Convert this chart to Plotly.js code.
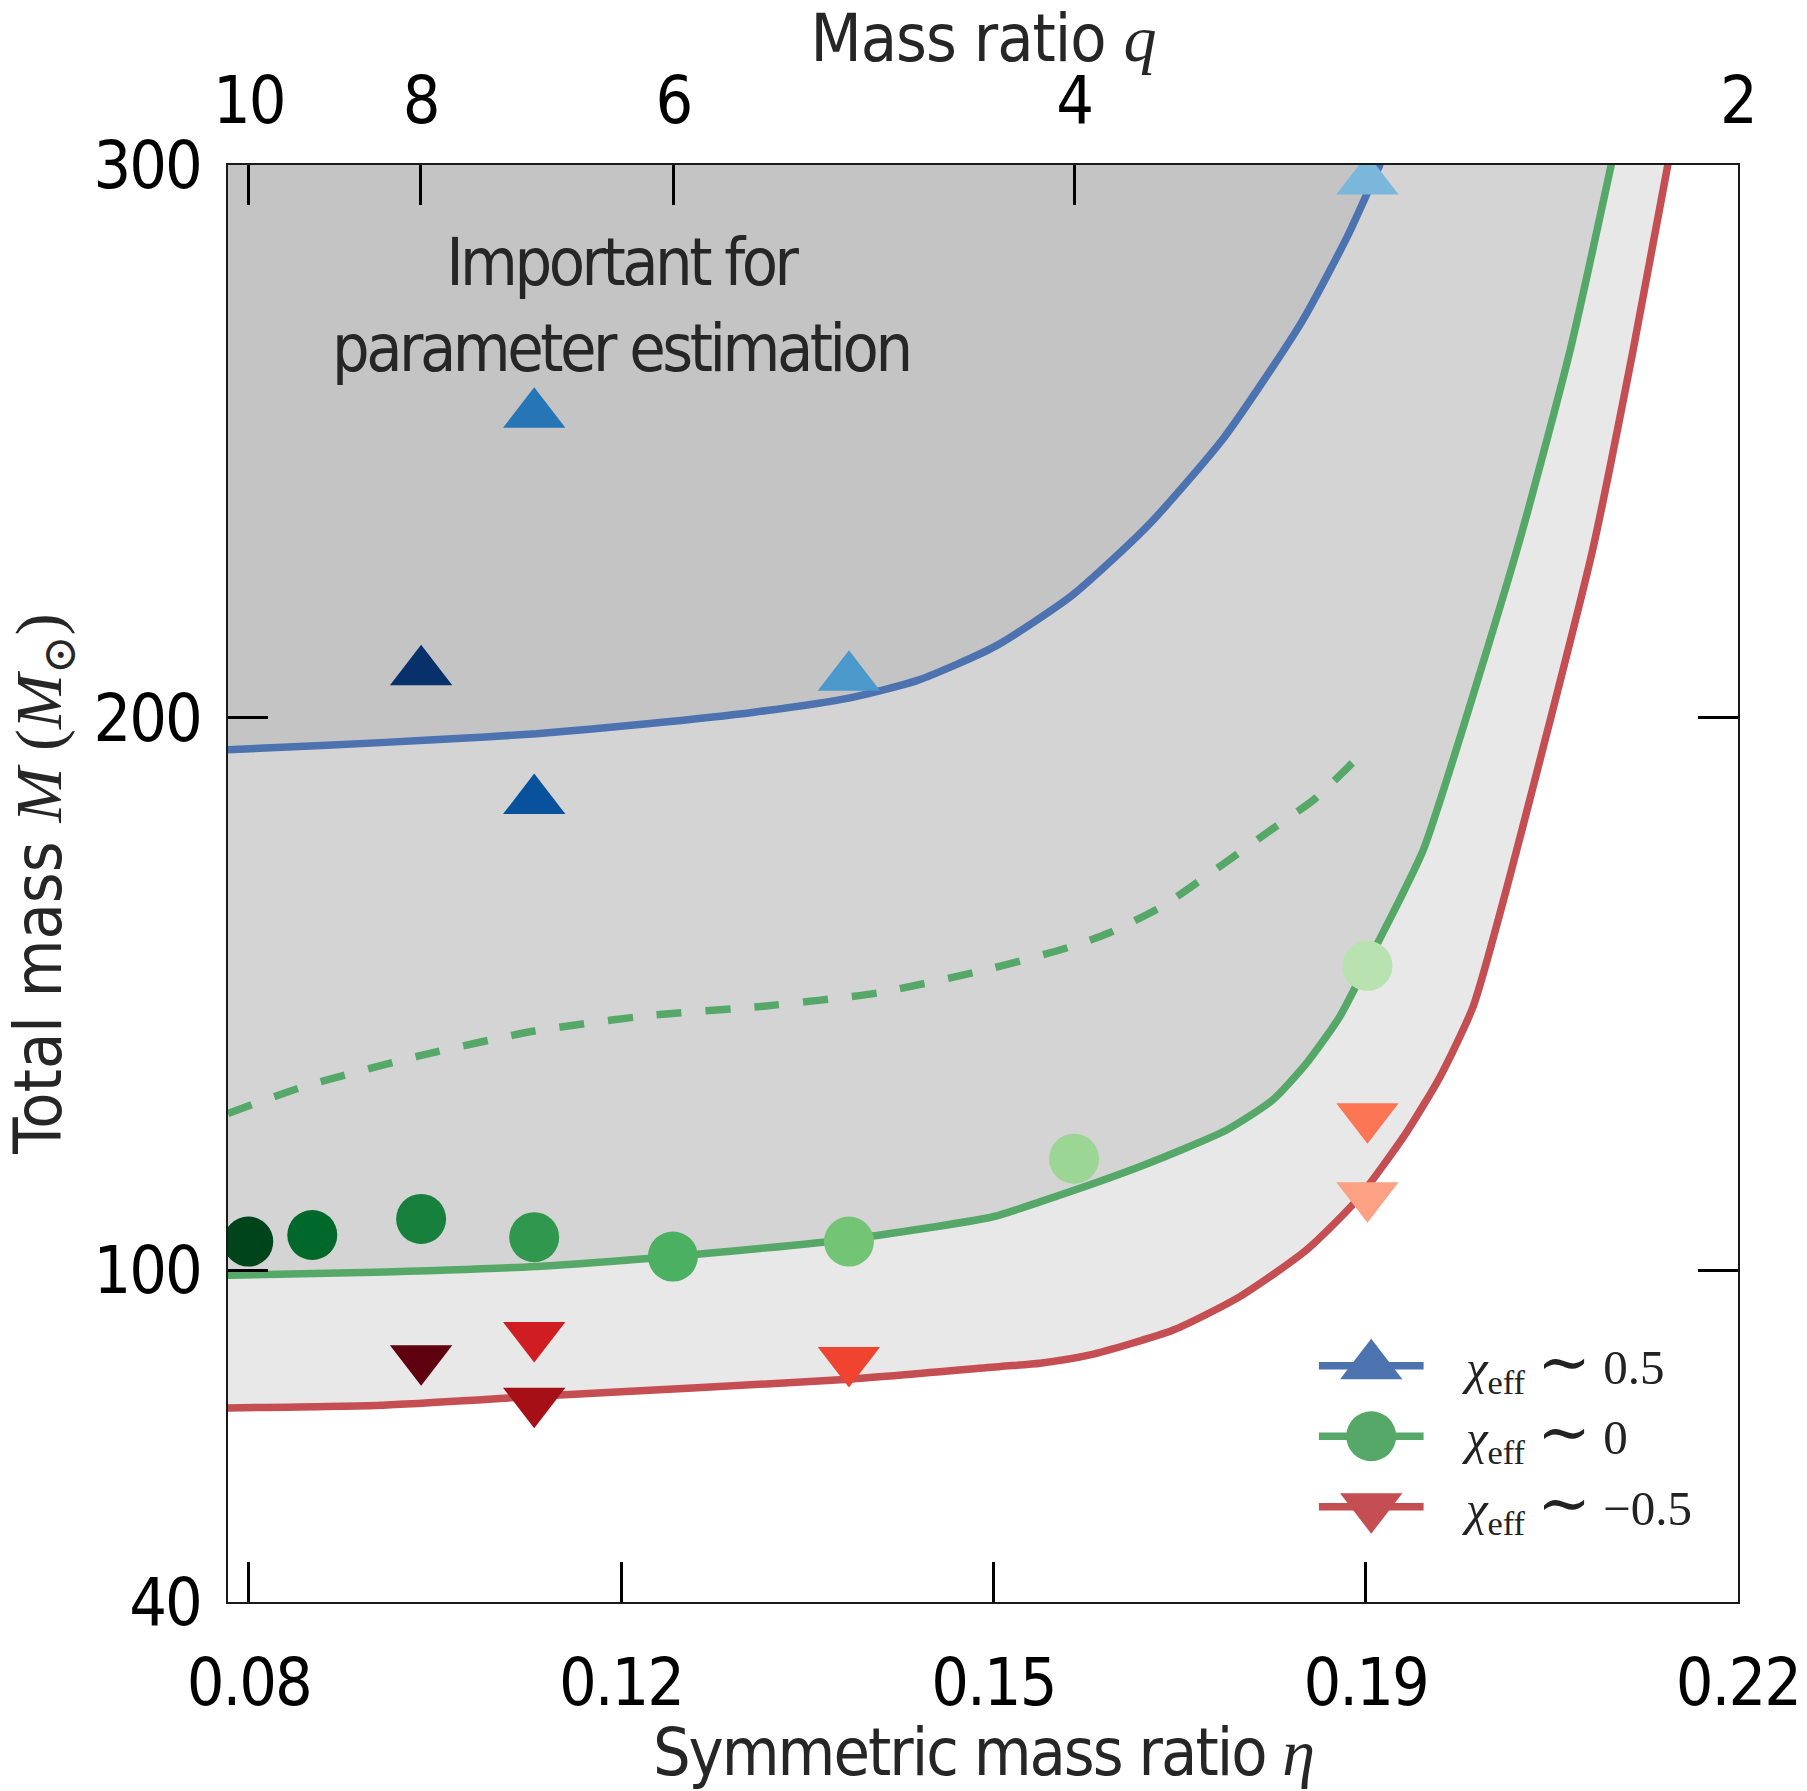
<!DOCTYPE html>
<html>
<head>
<meta charset="utf-8">
<script src="https://cdn.plot.ly/plotly-3.0.1.min.js"></script>
<style>
html,body{margin:0;padding:0;background:#ffffff;}
#chart{width:1807px;height:1791px;}
#chart .xtick text, #chart .x2tick text, #chart .ytick text {letter-spacing:-2px;}
#chart .g-xtitle text {letter-spacing:-2px;}
#chart .g-x2title text {letter-spacing:-1px;}
#chart g.annotation[data-index="3"] text {letter-spacing:-3.5px;}
</style>
</head>
<body>
<div id="chart"></div>
<script>
// ---------------- data ----------------
// symmetric mass ratio eta (x) and total mass M (y)
const blueEta = [0.0807, 0.0900, 0.1000, 0.1096, 0.1200, 0.1300, 0.1390, 0.1454, 0.1526, 0.1598, 0.1669, 0.1741, 0.1813, 0.1856, 0.1887];
const blueM   = [194.2, 195.0, 196.0, 197.1, 198.9, 201.0, 203.6, 206.8, 212.9, 222.1, 234.7, 250.8, 271.5, 287.0, 300.2];

const greenEta = [0.0807, 0.0933, 0.1096, 0.1223, 0.1388, 0.1524, 0.1568, 0.1662, 0.1743, 0.1786, 0.1818, 0.1849, 0.1880, 0.1905, 0.1928, 0.2015, 0.2065, 0.2104];
const greenM   = [99.1, 99.6, 100.7, 102.5, 105.6, 109.7, 112.4, 118.8, 125.4, 130.8, 137.5, 145.9, 157.5, 167.0, 176.4, 230.3, 266.5, 300.5];

const redEta = [0.0807, 0.0950, 0.1096, 0.1389, 0.1531, 0.1568, 0.1615, 0.1693, 0.1755, 0.1818, 0.1865, 0.1911, 0.1943, 0.1974, 0.2002, 0.2086, 0.2124, 0.2157];
const redM   = [75.1, 75.6, 77.2, 80.3, 82.6, 83.2, 84.7, 89.2, 95.2, 103.7, 112.7, 124.8, 135.0, 147.7, 166.6, 230.3, 266.5, 300.5];

const dashEta = [0.0807, 0.0879, 0.0986, 0.1094, 0.1201, 0.1309, 0.1416, 0.1524, 0.1596, 0.1632, 0.1682, 0.1739, 0.1789, 0.1825, 0.1866];
const dashM   = [128.4, 133.3, 138.8, 143.3, 146.1, 147.8, 150.2, 154.7, 158.5, 161.0, 165.8, 173.4, 180.3, 185.2, 192.8];

// chi_eff ~ 0.5 (triangles up)
const upEta = [0.1094, 0.0988, 0.1389, 0.1094, 0.1875];
const upM   = [254.9, 208.3, 207.3, 185.0, 297.1];
const upColors = ['#2575b7', '#08306b', '#4b98ca', '#08529d', '#7ab7da'];

// chi_eff ~ 0 (circles)
const circEta = [0.0826, 0.0886, 0.0988, 0.1094, 0.1224, 0.1389, 0.1600, 0.1875];
const circM   = [105.2, 106.4, 109.3, 106.0, 102.5, 105.2, 120.2, 155.1];
const circColors = ['#00441b', '#00682a', '#16803c', '#2f974e', '#4bb062', '#74c476', '#9bd695', '#b8e3b1'];

// chi_eff ~ -0.5 (triangles down)
const downEta = [0.0988, 0.1094, 0.1094, 0.1389, 0.1875, 0.1875];
const downM   = [84.0, 88.2, 76.3, 83.7, 127.8, 113.5];
const downColors = ['#5f000e', '#d01d21', '#a50f15', '#f04431', '#fc7656', '#fca183'];

// axes and labels
const qTickValues  = [10, 8, 6, 4, 2];
const qTickLabels  = ['10', '8', '6', '4', '2'];
const etaTickLabels = ['0.08', '0.12', '0.15', '0.19', '0.22'];
const massTickValues = [40, 100, 200, 300];
const legendLabels = ['<i>χ</i><sub>eff</sub> ∼ 0.5', '<i>χ</i><sub>eff</sub> ∼ 0', '<i>χ</i><sub>eff</sub> ∼ −0.5'];
const noteLines = ['Important for', 'parameter estimation'];

// ---------------- derived ----------------
const etaOfQ = q => q / ((1 + q) * (1 + q));
const qTickEta = qTickValues.map(etaOfQ);
const etaLo = etaOfQ(10), etaHi = etaOfQ(2);
const etaTickVals = etaTickLabels.map((_, i) => etaLo + (etaHi - etaLo) * i / (etaTickLabels.length - 1));

const xL = 0.0807, xR = etaHi + 1e-5;
const yB = 39.99, yT = 300.01;

const sans = "'DejaVu Sans Condensed', 'Liberation Sans', sans-serif";
const serif = "'Liberation Serif', 'DejaVu Serif', serif";
const serifSpan = t => '<span style="font-family:Liberation Serif,DejaVu Serif,serif">' + t + '</span>';
const styleLegend = t => t.replace('∼', '<span style="font-family:DejaVu Serif,serif;font-size:64px">∼</span>');

const cBlue = '#4c72b0', cGreen = '#55a868', cRed = '#c44e52';
const LW = 7.5;
const smooth = {shape: 'spline', smoothing: 0.6};

const traces = [];
// shaded regions (layered, each filled down from its curve)
traces.push({x: [xL, xR], y: [yT, yT], mode: 'none', fill: 'tozeroy', fillcolor: '#c4c4c4', hoverinfo: 'skip'});
traces.push({x: blueEta.concat([xR]), y: blueM.concat([yT]), mode: 'none', fill: 'tozeroy', fillcolor: '#d4d4d4', hoverinfo: 'skip'});
traces.push({x: greenEta.concat([xR]), y: greenM.concat([yT]), mode: 'none', fill: 'tozeroy', fillcolor: '#e8e8e8', hoverinfo: 'skip'});
traces.push({x: redEta.concat([xR]), y: redM.concat([yT]), mode: 'none', fill: 'tozeroy', fillcolor: '#ffffff', hoverinfo: 'skip'});
// curves
traces.push({x: blueEta, y: blueM, mode: 'lines', line: Object.assign({color: cBlue, width: LW}, smooth)});
traces.push({x: greenEta, y: greenM, mode: 'lines', line: Object.assign({color: cGreen, width: LW}, smooth)});
traces.push({x: redEta, y: redM, mode: 'lines', line: Object.assign({color: cRed, width: LW}, smooth)});
traces.push({x: dashEta, y: dashM, mode: 'lines', line: Object.assign({color: cGreen, width: LW, dash: '25px,24px'}, smooth)});
// markers
traces.push({x: upEta, y: upM, mode: 'markers', marker: {symbol: 'triangle-up', size: 54, color: upColors, line: {width: 0}}});
traces.push({x: circEta, y: circM, mode: 'markers', marker: {symbol: 'circle', size: 50, color: circColors, line: {width: 0}}});
traces.push({x: downEta, y: downM, mode: 'markers', marker: {symbol: 'triangle-down', size: 54, color: downColors, line: {width: 0}}});
// carrier for the top (mass ratio) axis
traces.push({x: [xL], y: [null], xaxis: 'x2', yaxis: 'y', mode: 'markers', hoverinfo: 'skip'});

// legend drawn on its own small axes so the symbols keep their real size
const legendColors = [cBlue, cGreen, cRed];
const legendSymbols = ['triangle-up', 'circle', 'triangle-down'];
const legendSizes = [54, 50, 54];
const legendSpan = [0, 1];
legendLabels.forEach((lab, i) => {
  traces.push({x: legendSpan, y: [i, i], xaxis: 'x3', yaxis: 'y3', mode: 'lines', line: {color: legendColors[i], width: LW}, hoverinfo: 'skip'});
  traces.push({x: [(legendSpan[0] + legendSpan[1]) / 2], y: [i], xaxis: 'x3', yaxis: 'y3', mode: 'markers', cliponaxis: false,
    marker: {symbol: legendSymbols[i], size: legendSizes[i], color: legendColors[i], line: {width: 0}}, hoverinfo: 'skip'});
});

const annotations = [];
legendLabels.forEach((lab, i) => {
  annotations.push({xref: 'x3', yref: 'y3', x: legendSpan[1], y: i, xanchor: 'left', yanchor: 'middle', xshift: 36, yshift: 3,
    text: styleLegend(lab), showarrow: false, font: {family: serif, size: 49, color: '#222222'}});
});
annotations.push({xref: 'paper', yref: 'paper', x: 0.2603, y: 0.9022, xanchor: 'center', yanchor: 'middle',
  text: noteLines.join('<br>'), showarrow: false, font: {family: sans, size: 66, color: '#262626'}});

const tickCommon = {ticks: 'inside', ticklen: 40, tickwidth: 3, tickcolor: '#000000', showgrid: false, zeroline: false,
  tickfont: {family: sans, size: 66, color: '#000000'}};

const layout = {
  width: 1807, height: 1791,
  margin: {l: 228, r: 69, t: 165, b: 189, pad: 0},
  paper_bgcolor: '#ffffff', plot_bgcolor: 'rgba(0,0,0,0)',
  showlegend: false,
  font: {family: sans, size: 66, color: '#000000'},
  xaxis: Object.assign({}, tickCommon, {
    range: [xL, xR], tickmode: 'array', tickvals: etaTickVals, ticktext: etaTickLabels,
    showline: true, linewidth: 2, linecolor: '#1a1a1a', mirror: true, ticklabelstandoff: 22,
    title: {text: 'Symmetric mass ratio ' + serifSpan('<i>η</i>'), font: {family: sans, size: 66, color: '#262626'}, standoff: 0}
  }),
  xaxis2: Object.assign({}, tickCommon, {
    overlaying: 'x', side: 'top', anchor: 'y', range: [xL, xR], tickmode: 'array', tickvals: qTickEta, ticktext: qTickLabels,
    showline: false, ticklabelstandoff: 28,
    title: {text: 'Mass ratio ' + serifSpan('<i>q</i>'), font: {family: sans, size: 66, color: '#262626'}, standoff: 33}
  }),
  yaxis: Object.assign({}, tickCommon, {
    range: [yB, yT], tickmode: 'array', tickvals: massTickValues,
    showline: true, linewidth: 2, linecolor: '#1a1a1a', mirror: 'ticks', ticklabelstandoff: 12,
    title: {text: 'Total mass ' + serifSpan('<i>M</i> (<i>M</i><sub>⊙</sub>)'), font: {family: sans, size: 66, color: '#262626'}, standoff: 42}
  }),
  xaxis3: {domain: [0.7223, 0.7919], range: [0, 1], visible: false, anchor: 'y3', fixedrange: true},
  yaxis3: {domain: [0.0418, 0.1889], range: [2.5, -0.5], visible: false, anchor: 'x3', fixedrange: true},
  annotations: annotations
};

Plotly.newPlot('chart', traces, layout, {displayModeBar: false, responsive: false});
</script>
</body>
</html>
